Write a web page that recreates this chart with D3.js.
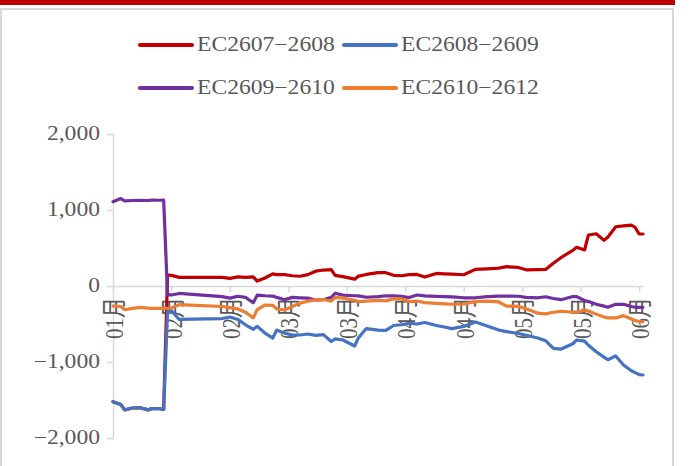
<!DOCTYPE html>
<html><head><meta charset="utf-8">
<script src="https://cdn.jsdelivr.net/npm/d3@7"></script>
<style>
html,body{margin:0;padding:0;background:#fff;}
svg{display:block;}
</style></head>
<body>
<svg id="chart" width="694" height="466"></svg>
<script>
const dates = ["2026-01-19","2026-01-21","2026-01-22","2026-01-24","2026-01-26","2026-01-28","2026-01-29","2026-01-31","2026-02-01","2026-02-02","2026-02-03","2026-02-05","2026-02-16","2026-02-18","2026-02-20","2026-02-22","2026-02-24","2026-02-25","2026-02-27","2026-03-01","2026-03-02","2026-03-04","2026-03-06","2026-03-08","2026-03-10","2026-03-12","2026-03-14","2026-03-16","2026-03-17","2026-03-19","2026-03-22","2026-03-23","2026-03-25","2026-03-28","2026-03-30","2026-04-01","2026-04-03","2026-04-05","2026-04-07","2026-04-09","2026-04-12","2026-04-14","2026-04-16","2026-04-19","2026-04-22","2026-04-25","2026-04-28","2026-04-30","2026-05-03","2026-05-05","2026-05-08","2026-05-10","2026-05-12","2026-05-14","2026-05-17","2026-05-18","2026-05-20","2026-05-21","2026-05-23","2026-05-25","2026-05-26","2026-05-28","2026-05-30","2026-06-01","2026-06-02","2026-06-03","2026-06-04"];

const ec2607_2608 = [-1522,-1560,-1630,-1605,-1602,-1630,-1612,-1615,-1623,145,140,114,114,100,120,114,120,65,105,160,150,150,135,128,150,195,210,215,140,123,90,130,152,175,175,140,135,150,152,118,165,160,155,148,219,226,236,254,244,213,215,218,300,375,470,509,474,671,687,600,645,780,790,800,770,684,684];
const ec2608_2609 = [-1522,-1560,-1630,-1605,-1602,-1630,-1612,-1615,-1623,-338,-325,-440,-428,-408,-440,-510,-570,-530,-620,-685,-580,-620,-645,-645,-632,-650,-640,-730,-695,-710,-789,-680,-560,-580,-585,-520,-510,-490,-500,-480,-520,-540,-560,-532,-475,-525,-580,-600,-625,-648,-685,-720,-820,-830,-760,-710,-725,-780,-865,-935,-970,-920,-1040,-1115,-1140,-1165,-1171];
const ec2609_2610 = [1109,1150,1120,1125,1128,1125,1130,1128,1131,-118,-118,-98,-140,-160,-135,-150,-220,-120,-128,-132,-150,-182,-150,-155,-160,-185,-180,-150,-95,-120,-128,-130,-148,-140,-128,-130,-135,-152,-118,-130,-136,-140,-142,-155,-155,-140,-132,-132,-135,-150,-155,-141,-165,-180,-138,-140,-190,-205,-240,-265,-280,-241,-241,-270,-280,-280,-280];
const ec2610_2612 = [-263,-270,-312,-295,-282,-292,-295,-294,-294,-294,-290,-245,-270,-285,-302,-345,-420,-310,-250,-255,-300,-316,-270,-225,-200,-182,-178,-200,-150,-160,-188,-205,-200,-188,-196,-170,-170,-205,-198,-218,-228,-235,-240,-237,-205,-200,-210,-264,-268,-300,-357,-367,-345,-332,-345,-345,-318,-330,-370,-408,-420,-420,-390,-435,-455,-465,-469];

const seriesNames = ["EC2607−2608","EC2608−2609","EC2609−2610","EC2610−2612"];
const seriesColors = ["#C00000","#4472C4","#7030A0","#ED7D31"];
const yTicks = [2000,1000,0,-1000,-2000];
const xTickDates = ["2026-01-19","2026-02-03","2026-02-18","2026-03-05","2026-03-20","2026-04-04","2026-04-19","2026-05-04","2026-05-19","2026-06-03"];

const parse = d3.utcParse("%Y-%m-%d");
const seriesValues = [ec2607_2608, ec2608_2609, ec2609_2610, ec2610_2612];
const series = seriesNames.map((name,i)=>({name, color:seriesColors[i],
  points: dates.map((d,j)=>({date:parse(d), value:seriesValues[i][j]}))}));

const svg = d3.select("#chart");
const FONT = "'Liberation Serif','Times New Roman','Noto Sans CJK SC',serif";
const SX = 1.18;
const txtColor = "#595959";
const gridColor = "#d9d9d9";

// frame
svg.append("rect").attr("x",1).attr("y",9).attr("width",672).attr("height",470)
  .attr("fill","#fff").attr("stroke",gridColor).attr("stroke-width",2);
svg.append("rect").attr("x",0).attr("y",0).attr("width",675).attr("height",5).attr("fill","#C00000");

const x = d3.scaleUtc().domain([parse(dates[0]), parse(dates[dates.length-1])]).range([113,643]);
const y = d3.scaleLinear().domain([-2000,2000]).range([438,134]);

// y axis
const yAxis = svg.append("g").attr("transform","translate(113,0)")
  .call(d3.axisLeft(y).tickValues(yTicks).tickSize(6).tickFormat(()=>""));
yAxis.select(".domain").attr("stroke",gridColor).attr("stroke-width",1.5);
yAxis.selectAll(".tick line").attr("stroke",gridColor).attr("stroke-width",1.5);

const fmtY = v => v===0 ? "0" : (v<0?"−":"") + d3.format(",")(Math.abs(v));
yTicks.forEach(v=>{
  svg.append("g").attr("transform",`translate(100,${y(v)}) scale(${SX},1)`)
    .append("text").attr("text-anchor","end").attr("dominant-baseline","central")
    .attr("font-family",FONT).attr("font-size",20).attr("fill",txtColor).text(fmtY(v));
});

// x axis at y=0
const xAxis = svg.append("g").attr("transform",`translate(0,${y(0)})`)
  .call(d3.axisBottom(x).tickValues(xTickDates.map(parse)).tickSize(6).tickSizeOuter(0).tickFormat(()=>""));
xAxis.select(".domain").attr("stroke",gridColor).attr("stroke-width",1.5);
xAxis.selectAll(".tick line").attr("stroke",gridColor).attr("stroke-width",1.5);

const fmtX = d3.utcFormat("%m月");

// x tick labels (drawn beneath the series lines)
xTickDates.forEach(d=>{
  svg.append("g").attr("transform",`translate(${x(parse(d))+2},297) scale(${SX},1) rotate(-90)`)
    .append("text").attr("text-anchor","end").attr("dominant-baseline","central")
    .attr("font-family",FONT).attr("font-size",21).attr("fill",txtColor).text(fmtX(parse(d)));
});

// lines
const line = d3.line().x(d=>x(d.date)).y(d=>y(d.value));
series.forEach(s=>{
  svg.append("path").datum(s.points).attr("d",line).attr("fill","none")
    .attr("stroke",s.color).attr("stroke-width",3.2).attr("stroke-linejoin","round").attr("stroke-linecap","round");
});

// legend
const legendPos = [[140,45],[344,45],[140,88],[344,88]];
series.forEach((s,i)=>{
  const [lx,ly] = legendPos[i];
  svg.append("line").attr("x1",lx).attr("x2",lx+52).attr("y1",ly).attr("y2",ly)
    .attr("stroke",s.color).attr("stroke-width",4).attr("stroke-linecap","round");
  svg.append("g").attr("transform",`translate(${lx+57},${ly}) scale(${SX},1)`)
    .append("text").attr("dominant-baseline","central")
    .attr("font-family",FONT).attr("font-size",20).attr("fill",txtColor).text(s.name);
});
</script>
</body></html>
